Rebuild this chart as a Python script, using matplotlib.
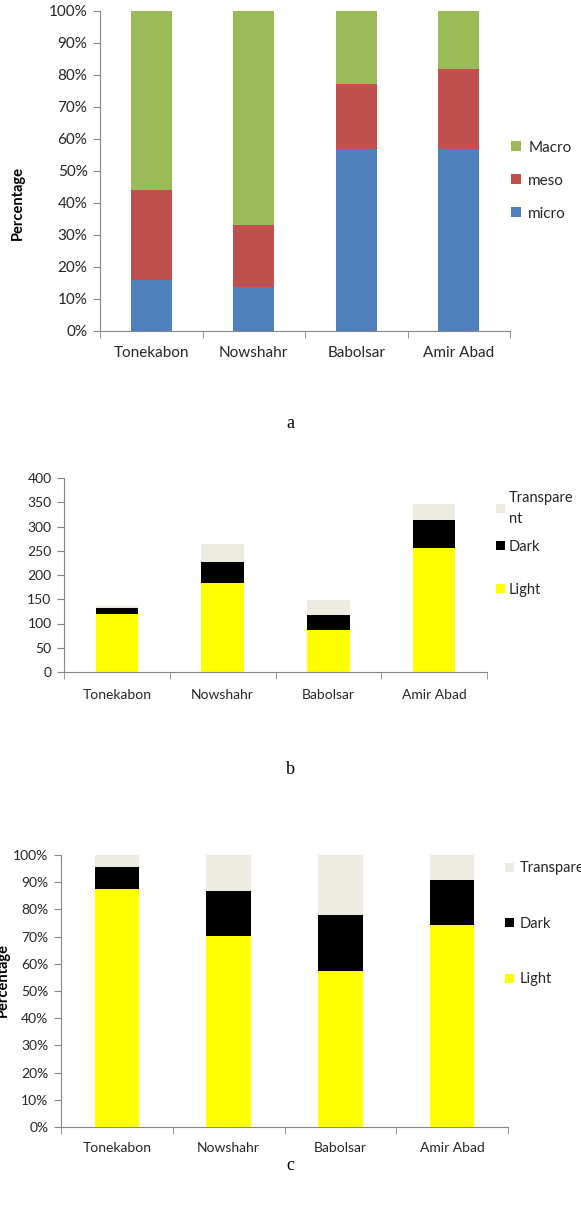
import numpy as np
import matplotlib
matplotlib.use("Agg")
import matplotlib.pyplot as plt
from matplotlib.patches import Patch
from matplotlib.ticker import FixedLocator, PercentFormatter

plt.rcParams.update({
    "font.family": ["Lato", "DejaVu Sans"],
    "font.size": 10,
    "axes.linewidth": 0.8,
})

# ---- data ----
sites = ["Tonekabon", "Nowshahr", "Babolsar", "Amir Abad"]

# (a) pore size fractions, percent
micro = [16.0, 13.6, 56.8, 56.9]
meso = [28.0, 19.5, 20.5, 25.1]
macro = [56.0, 66.9, 22.7, 18.0]

# (b) counts by colour
light_n = [120, 184, 86, 256]
dark_n = [11, 43, 31, 58]
transp_n = [6, 36, 32, 32]

# (c) percent by colour
light_p = [87.5, 70.4, 57.2, 74.2]
dark_p = [8.1, 16.2, 20.6, 16.7]
transp_p = [4.4, 13.4, 22.2, 9.1]

C_MICRO, C_MESO, C_MACRO = "#4F81BD", "#C0504D", "#9BBB59"
C_LIGHT, C_DARK, C_TRANSP = "#FFFF00", "#000000", "#EEECE1"
AX_GRAY = "#868686"
TXT = "#262626"

W, H = 581, 1207
fig = plt.figure(figsize=(W / 100, H / 100), dpi=100)


def box(l, r, t, b):
    return [l / W, 1 - b / H, (r - l) / W, (b - t) / H]


def style(ax, fs, xpad=10):
    for s in ("top", "right"):
        ax.spines[s].set_visible(False)
    for s in ("left", "bottom"):
        ax.spines[s].set_color(AX_GRAY)
    ax.set_xlim(-0.5, 3.5)
    ax.set_xticks(range(4))
    ax.set_xticklabels(sites, fontsize=fs, color=TXT)
    ax.xaxis.set_minor_locator(FixedLocator(np.arange(-0.5, 4.0, 1.0)))
    ax.tick_params(axis="x", which="major", length=0, pad=xpad)
    ax.tick_params(axis="x", which="minor", length=5, color=AX_GRAY)
    ax.tick_params(axis="y", length=5, color=AX_GRAY, labelsize=fs,
                   labelcolor=TXT, pad=4)


def stack(ax, series, colors, labels):
    x = np.arange(len(sites))
    bottom = np.zeros(len(sites))
    handles = []
    for vals, c, lab in zip(series, colors, labels):
        ax.bar(x, vals, width=0.4, bottom=bottom, color=c, edgecolor="none")
        bottom += np.array(vals)
        handles.append(Patch(facecolor=c, edgecolor="none", label=lab))
    return handles[::-1]


leg_kw = dict(frameon=False, handlelength=0.6, handleheight=0.6,
              labelcolor=TXT)

# ---- panel a ----
ax1 = fig.add_axes(box(100, 510, 11, 331))
h = stack(ax1, [micro, meso, macro], [C_MICRO, C_MESO, C_MACRO],
          ["micro", "meso", "Macro"])
ax1.set_ylim(0, 100)
ax1.set_yticks(np.arange(0, 101, 10))
ax1.yaxis.set_major_formatter(PercentFormatter(decimals=0))
style(ax1, 11, xpad=11)
ax1.legend(handles=h, loc="center left", bbox_to_anchor=(0.97, 0.47),
           fontsize=11, handletextpad=0.5, labelspacing=1.25, **leg_kw)
fig.text(18 / W, 1 - 203 / H, "Percentage", rotation=90, ha="center",
         va="center", fontsize=10.5, fontweight="bold", color="black")
fig.text(290 / W, 1 - 424 / H, "a", family="Liberation Serif", fontsize=13,
         ha="center", va="center")

# ---- panel b ----
ax2 = fig.add_axes(box(64, 487, 478, 672))
h = stack(ax2, [light_n, dark_n, transp_n], [C_LIGHT, C_DARK, C_TRANSP],
          ["Light", "Dark", "Transpare\nnt"])
ax2.set_ylim(0, 400)
ax2.set_yticks(np.arange(0, 401, 50))
style(ax2, 10, xpad=12)
leg1 = ax2.legend(handles=h[:1], loc="upper left", bbox_to_anchor=(0.99, 1.0),
                  fontsize=10.5, handletextpad=0.3, **leg_kw)
for t in leg1.get_texts():
    t.set_linespacing(1.6)
ax2.add_artist(leg1)
ax2.legend(handles=h[1:], loc="upper left", bbox_to_anchor=(0.99, 0.75),
           fontsize=10.5, handletextpad=0.3, labelspacing=2.0, **leg_kw)
fig.text(290 / W, 1 - 770 / H, "b", family="Liberation Serif", fontsize=13,
         ha="center", va="center")

# ---- panel c ----
ax3 = fig.add_axes(box(61, 508, 855, 1127))
h = stack(ax3, [light_p, dark_p, transp_p], [C_LIGHT, C_DARK, C_TRANSP],
          ["Light", "Dark", "Transparent"])
ax3.set_ylim(0, 100)
ax3.set_yticks(np.arange(0, 101, 10))
ax3.yaxis.set_major_formatter(PercentFormatter(decimals=0))
style(ax3, 10, xpad=11)
ax3.legend(handles=h, loc="upper left", bbox_to_anchor=(0.965, 1.025),
           fontsize=10.5, handletextpad=0.4, labelspacing=2.85, **leg_kw)
fig.text(3 / W, 1 - 980 / H, "Percentage", rotation=90, ha="center",
         va="center", fontsize=10.5, fontweight="bold", color="black")
fig.text(290 / W, 1 - 1165 / H, "c", family="Liberation Serif", fontsize=13,
         ha="center", va="center")

fig.savefig("out.png", dpi=100, facecolor="white")
